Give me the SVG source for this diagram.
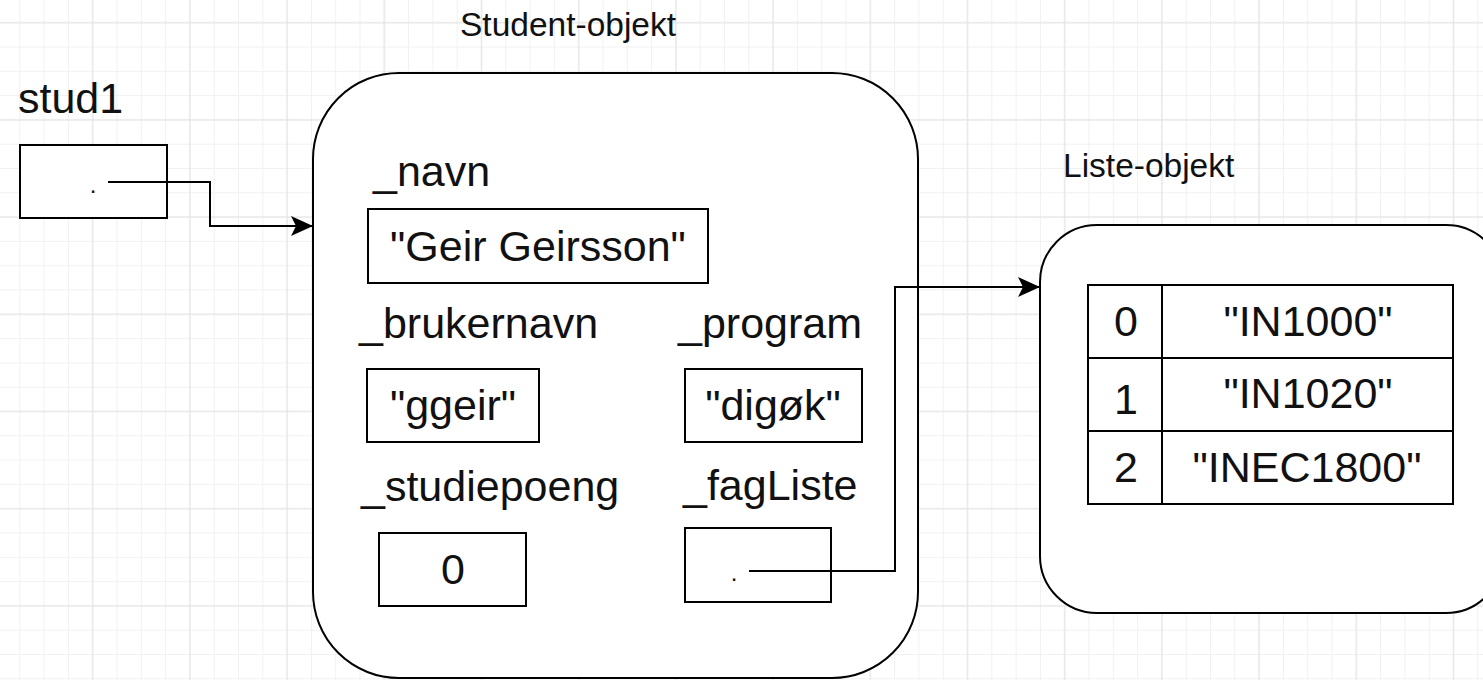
<svg xmlns="http://www.w3.org/2000/svg" width="1483" height="680" viewBox="0 0 1483 680">
  <defs>
    <pattern id="gridMinor" patternUnits="userSpaceOnUse" x="7.65" y="10.55" width="24.3" height="24.3">
      <path d="M12.15 0V24.3M0 12.15H24.3" stroke="#f1f1f1" stroke-width="1" fill="none"/>
    </pattern>
    <pattern id="gridMajor" patternUnits="userSpaceOnUse" x="44.1" y="-25.9" width="97.2" height="97.2">
      <path d="M48.6 0V97.2M0 48.6H97.2" stroke="#e2e2e2" stroke-width="1" fill="none"/>
    </pattern>
    <marker id="arrow" markerUnits="userSpaceOnUse" markerWidth="24" markerHeight="22" refX="22" refY="11" orient="auto" viewBox="0 0 24 22">
      <path d="M22 11 L0 1 L5 11 L0 21 Z" fill="#000"/>
    </marker>
    <style>
      .obj { fill: #fff; stroke: #000; stroke-width: 2; }
      .cell { fill: #fff; stroke: #000; stroke-width: 2; }
      .big { font-family: "Liberation Sans", Arial, sans-serif; font-size: 43px; fill: #111; }
      .small { font-family: "Liberation Sans", Arial, sans-serif; font-size: 33.5px; fill: #111; }
      .mid { text-anchor: middle; }
      .dot { font-family: "Liberation Sans", Arial, sans-serif; font-size: 24px; fill: #111; text-anchor: middle; }
      .conn { fill: none; stroke: #000; stroke-width: 2; }
    </style>
  </defs>

  <rect width="1483" height="680" fill="#fff"/>
  <rect width="1483" height="680" fill="url(#gridMinor)"/>
  <rect width="1483" height="680" fill="url(#gridMajor)"/>

  <g id="stud1">
    <text class="big" x="18" y="113">stud1</text>
    <rect class="cell" x="20" y="145" width="147" height="73"/>
    <text class="dot" x="93" y="193">.</text>
  </g>

  <g id="student-objekt">
    <text class="small" x="460" y="36">Student-objekt</text>
    <rect class="obj" x="313" y="73" width="605" height="605" rx="86" ry="86"/>
  </g>

  <g id="navn">
    <text class="big" x="373" y="186">_navn</text>
    <rect class="cell" x="368" y="209" width="340" height="74"/>
    <text class="big mid" x="538" y="261">"Geir Geirsson"</text>
  </g>

  <g id="brukernavn">
    <text class="big" x="359" y="338">_brukernavn</text>
    <rect class="cell" x="367" y="369" width="172" height="73"/>
    <text class="big mid" x="453" y="420">"ggeir"</text>
  </g>

  <g id="program">
    <text class="big" x="678" y="338">_program</text>
    <rect class="cell" x="685" y="369" width="177" height="73"/>
    <text class="big mid" x="773" y="420">"digøk"</text>
  </g>

  <g id="studiepoeng">
    <text class="big" x="361" y="501">_studiepoeng</text>
    <rect class="cell" x="379" y="533" width="147" height="73"/>
    <text class="big mid" x="453" y="584">0</text>
  </g>

  <g id="fagListe">
    <text class="big" x="683" y="500">_fagListe</text>
    <rect class="cell" x="685" y="528" width="146" height="74"/>
    <text class="dot" x="734" y="581">.</text>
  </g>

  <g id="liste-objekt">
    <text class="small" x="1063" y="177">Liste-objekt</text>
    <rect class="obj" x="1040" y="225" width="463" height="388" rx="57" ry="57"/>
  </g>

  <g id="liste-tabell">
    <rect class="cell" x="1088" y="285" width="365" height="219"/>
    <path class="conn" d="M1162 285V504M1088 358H1453M1088 431H1453"/>
    <text class="big mid" x="1126" y="336">0</text>
    <text class="big mid" x="1308" y="336">"IN1000"</text>
    <text class="big mid" x="1126" y="414">1</text>
    <text class="big mid" x="1308" y="408">"IN1020"</text>
    <text class="big mid" x="1126" y="482">2</text>
    <text class="big mid" x="1307" y="482">"INEC1800"</text>
  </g>

  <g id="connectors">
    <path class="conn" d="M108 182H210V226H313" marker-end="url(#arrow)"/>
    <path class="conn" d="M749 571H895V287H1040" marker-end="url(#arrow)"/>
  </g>
</svg>
